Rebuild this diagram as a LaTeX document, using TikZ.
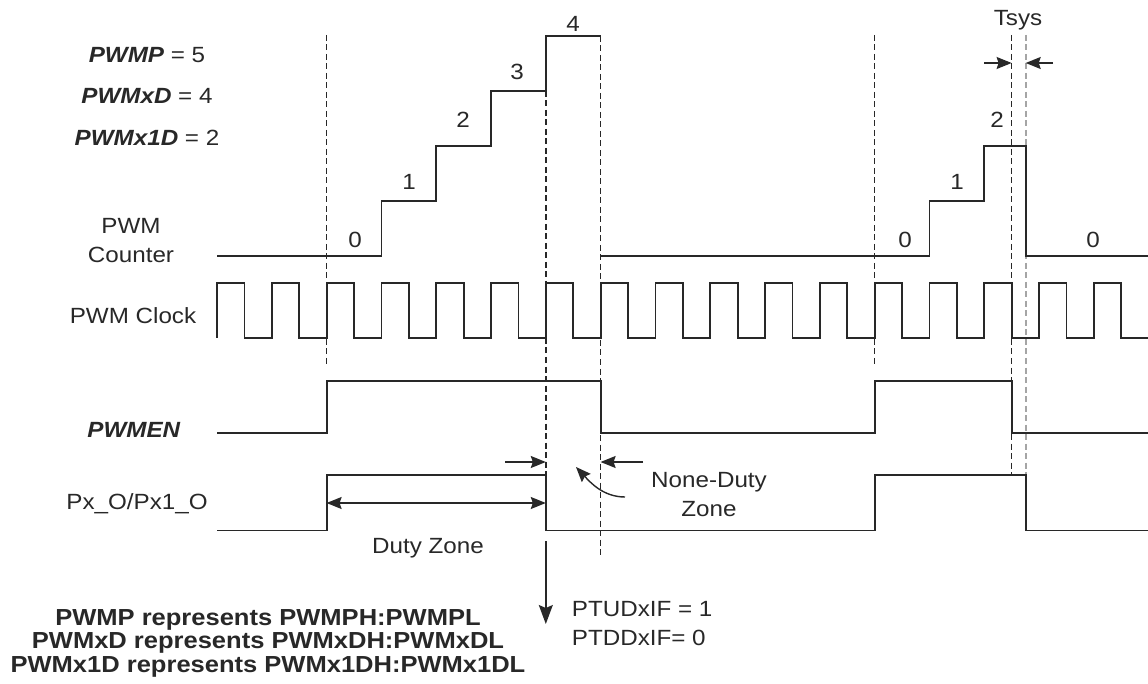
\documentclass[tikz,border=0pt]{standalone}
\usepackage{fontspec}
\setmainfont{Liberation Sans}[FakeStretch=1.1]
\usepackage{tikz}
\usetikzlibrary{arrows.meta}
\definecolor{mydark}{RGB}{40,40,40}
\definecolor{mygrey}{RGB}{165,165,165}
\tikzset{
  signal/.style={line width=1.8pt, color=mydark, line join=miter},
  guide/.style={line width=1.4pt, color=mydark, dash pattern=on 6pt off 3.5pt},
  greyguide/.style={line width=2.4pt, color=mygrey, dash pattern=on 6pt off 3.5pt},
  arrow/.style={-{Stealth[length=15pt, width=12pt, inset=2pt]}, line width=1.4pt, color=mydark},
  bigarrow/.style={-{Stealth[length=19pt, width=14pt, inset=3pt]}, line width=1.4pt, color=mydark},
  dblarrow/.style={{Stealth[length=15pt, width=12pt, inset=2pt]}-{Stealth[length=15pt, width=12pt, inset=2pt]}, line width=1.4pt, color=mydark},
  lbl/.style={font=\fontsize{22}{29}\selectfont, text=mydark, inner sep=0pt, anchor=base, align=center},
  note/.style={font=\fontsize{23.2}{23.5}\selectfont\bfseries, text=mydark, inner sep=0pt, anchor=base, align=center},
  steplbl/.style={font=\fontsize{22}{26}\selectfont, text=mydark, inner sep=0pt, anchor=base}
}

\begin{document}
\begin{tikzpicture}[x=1pt, y=-1pt]
  \fill[white] (0,0) rectangle (1148,684);
  \useasboundingbox (0,0) rectangle (1148,684);

  % Register values
  \node[lbl] (pwmp) at (147,63) {\textbf{\textit{PWMP}} = 5};
  \node[lbl] (pwmxd) at (147,104) {\textbf{\textit{PWMxD}} = 4};
  \node[lbl] (pwmx1d) at (147,146) {\textbf{\textit{PWMx1D}} = 2};

  % Signal names (base = last line)
  \node[lbl] (cntname) at (131,263) {PWM\\Counter};
  \node[lbl] (clkname) at (133,324) {PWM Clock};
  \node[lbl] (enname) at (134,437) {\textbf{\textit{PWMEN}}};
  \node[lbl] (outname) at (137,509) {Px\_O/Px1\_O};

  % Dashed time markers
  \draw[guide] (326.6,35) -- (326.6,367);
  \draw[guide] (545.8,91) -- (545.8,475);
  \draw[guide] (600.6,36) -- (600.6,557);
  \draw[guide] (874.6,35) -- (874.6,367);
  \draw[guide] (1011.6,35) -- (1011.6,475);
  \draw[greyguide] (1025.7,35) -- (1025.7,475);

  % PWM counter
  \draw[signal] (217,256) -- (381.4,256) -- (381.4,201) -- (436.2,201) -- (436.2,146)
    -- (491,146) -- (491,91) -- (545.8,91) -- (545.8,36) -- (600.6,36);
  \draw[signal] (600.6,256) -- (929.4,256) -- (929.4,201) -- (984.2,201) -- (984.2,146)
    -- (1025.7,146) -- (1025.7,256) -- (1148,256);
  \node[steplbl] (c0) at (355,248) {0};
  \node[steplbl] (c1) at (409,190) {1};
  \node[steplbl] (c2) at (463,128) {2};
  \node[steplbl] (c3) at (517,80) {3};
  \node[steplbl] (c4) at (573,32) {4};
  \node[steplbl] (d0) at (905,248) {0};
  \node[steplbl] (d1) at (957,190) {1};
  \node[steplbl] (d2) at (997,128) {2};
  \node[steplbl] (e0) at (1093,248) {0};

  % PWM clock
  \draw[signal] (217,338) foreach \k in {0,...,16} {
    -- ++(0,-55) -- ++(27.4,0) -- ++(0,55) -- ++(27.4,0) } -- ++(0,-55);

  % PWMEN
  \draw[signal] (217,433) -- (326.6,433) -- (326.6,381) -- (600.6,381) -- (600.6,433)
    -- (874.6,433) -- (874.6,381) -- (1011.6,381) -- (1011.6,433) -- (1148,433);

  % Px_O/Px1_O
  \draw[signal] (217,530.5) -- (326.6,530.5) -- (326.6,475) -- (545.8,475) -- (545.8,530.5)
    -- (874.6,530.5) -- (874.6,475) -- (1025.7,475) -- (1025.7,530.5) -- (1148,530.5);

  % Tsys
  \node[lbl] (tsys) at (1018,26) {Tsys};
  \coordinate (tsysA) at (984,63);
  \coordinate (tsysB) at (1011.6,63);
  \coordinate (tsysC) at (1053,63);
  \coordinate (tsysD) at (1025.7,63);
  \draw[arrow] (tsysA) -- (tsysB);
  \draw[arrow] (tsysC) -- (tsysD);

  % Duty and none-duty zones
  \coordinate (dutyL) at (326.6,503);
  \coordinate (dutyR) at (545.8,503);
  \draw[dblarrow] (dutyL) -- (dutyR);
  \node[lbl] (duty) at (428,553) {Duty Zone};
  \coordinate (ndA) at (505,462);
  \coordinate (ndB) at (545.8,462);
  \coordinate (ndC) at (643,462);
  \coordinate (ndD) at (600.6,462);
  \draw[arrow] (ndA) -- (ndB);
  \draw[arrow] (ndC) -- (ndD);
  \node[lbl] (noneduty) at (709,516) {None-Duty\\Zone};
  \coordinate (curlA) at (625,497);
  \coordinate (curlB) at (576,467);
  \draw[arrow] (curlA) .. controls (603,497) and (590,482) .. (curlB);

  % Interrupt flags
  \coordinate (flagA) at (545.8,541);
  \coordinate (flagB) at (545.8,624);
  \draw[bigarrow] (flagA) -- (flagB);
  \node[lbl, anchor=base west, align=left] (flags) at (571.7,645) {PTUDxIF = 1\\PTDDxIF= 0};

  % Register notes
  \node[note] (notes) at (268,672) {PWMP represents PWMPH:PWMPL\\PWMxD represents PWMxDH:PWMxDL\\PWMx1D represents PWMx1DH:PWMx1DL};
\end{tikzpicture}
\end{document}
